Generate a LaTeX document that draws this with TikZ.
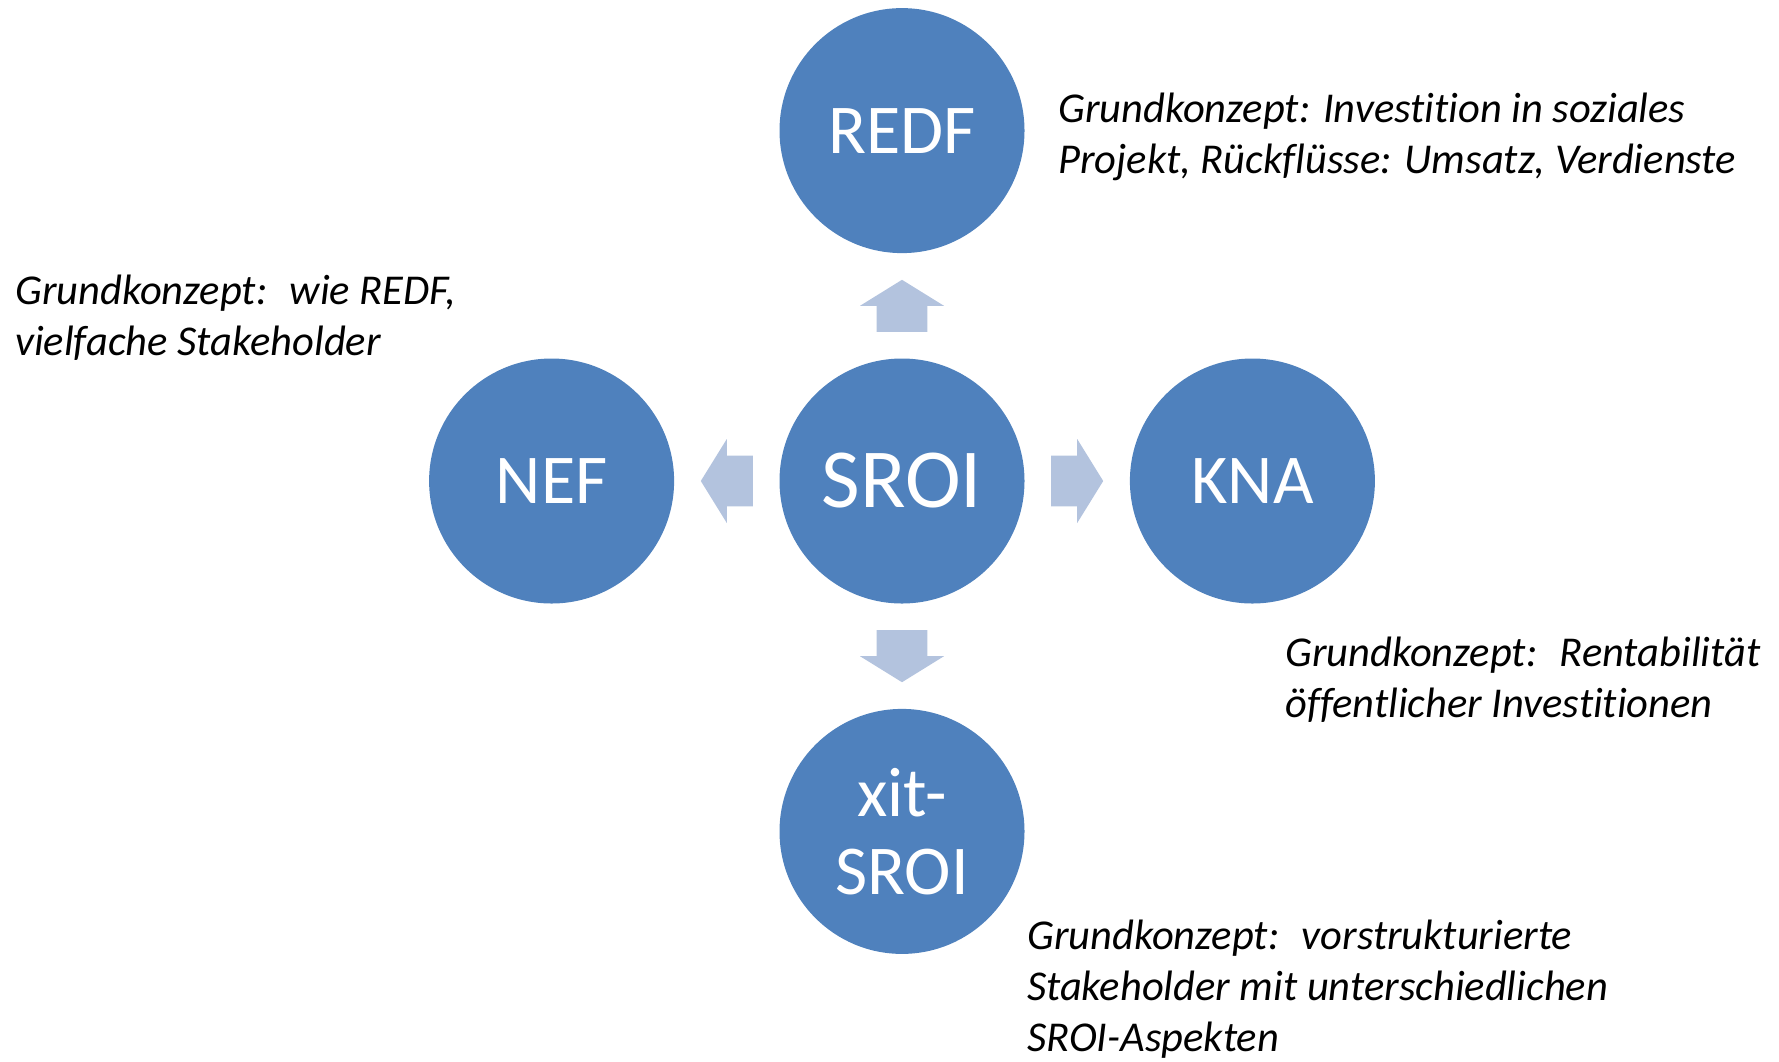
\documentclass[tikz,border=0pt]{standalone}
\usepackage{fontspec}
\setmainfont{Carlito}[Ligatures=NoCommon]
\usepackage{xcolor}
\usetikzlibrary{positioning}
\definecolor{circfill}{HTML}{4F81BD}
\definecolor{arrfill}{HTML}{B3C3DE}

\tikzset{
  method/.style={circle, fill=circfill, text=white, minimum size=245pt, inner sep=0pt,
    font=\fontsize{70}{78}\selectfont, align=center},
  concept/.style={anchor=base west, align=left, inner sep=0pt,
    font=\fontsize{42.5}{51}\selectfont\itshape},
  blockarrow/.pic={
    \fill[arrfill] (-26,-25.4) -- (0,-25.4) -- (0,-42) -- (26,0) -- (0,42) -- (0,25.4) -- (-26,25.4) -- cycle;
  }
}

\begin{document}
\begin{tikzpicture}[x=1pt,y=1pt]
  \def\gap{105pt}
  \useasboundingbox (0,0) rectangle (1779,-1061);
  % circles
  \node[method, font=\fontsize{84}{90}\selectfont] (sroi) at (902,-481) {SROI};
  \node[method, above=\gap of sroi] (redf) {REDF};
  \node[method, left=\gap of sroi] (nef) {NEF};
  \node[method, right=\gap of sroi] (kna) {KNA};
  \node[method, below=\gap of sroi] (xit) {xit-\\SROI};
  % arrows
  \foreach \t/\a in {redf/90, nef/180, kna/0, xit/-90}{
    \path (sroi) -- (\t) coordinate[midway] (m\t);
    \pic[rotate=\a] at (m\t) {blockarrow};
  }
  % texts (placed at the baseline of their last line)
  \node[concept] (redftext) at (1058,-173) {Grundkonzept: Investition in soziales\\Projekt, Rückflüsse: Umsatz, Verdienste};
  \node[concept] (neftext) at (15,-355) {Grundkonzept:~ wie REDF,\\vielfache Stakeholder};
  \node[concept] (knatext) at (1285,-717) {Grundkonzept:~ Rentabilität\\öffentlicher Investitionen};
  \node[concept] (xittext) at (1027,-1051) {Grundkonzept:~ vorstrukturierte\\Stakeholder mit unterschiedlichen\\SROI-Aspekten};
\end{tikzpicture}
\end{document}
